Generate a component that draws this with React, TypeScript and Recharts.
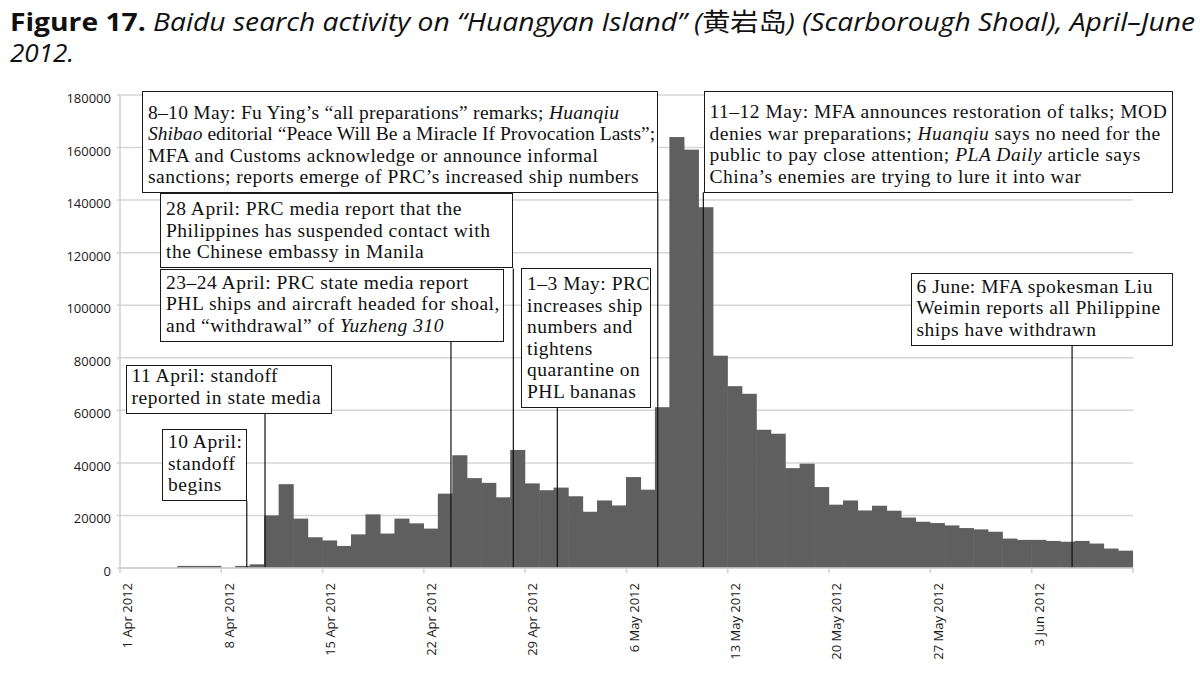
import React from 'react';
import { BarChart, Bar, XAxis, YAxis, CartesianGrid, ReferenceLine } from 'recharts';

// daily Baidu search index for 黄岩岛, 1 Apr – 9 Jun 2012 (one value per day)
const SEARCHES = [
  0, 0, 0, 0, 800, 800, 800, 0, 800, 1400,
  20000, 31900, 18800, 11700, 10500, 8400, 12800, 20400, 13100, 18800,
  17000, 15000, 28300, 42900, 34200, 32400, 26900, 44900, 32200, 29600,
  30600, 27300, 21400, 25700, 23800, 34600, 29800, 61200, 164000, 159200,
  137300, 80800, 69200, 66300, 52600, 51100, 38000, 39700, 30800, 24100,
  25700, 21900, 23700, 21800, 19200, 17600, 17100, 16200, 15200, 14700,
  13800, 11200, 10700, 10700, 10300, 10000, 10300, 9300, 7400, 6600,
];

const WEEK_LABELS = [
  '1 Apr 2012', '8 Apr 2012', '15 Apr 2012', '22 Apr 2012', '29 Apr 2012',
  '6 May 2012', '13 May 2012', '20 May 2012', '27 May 2012', '3 Jun 2012',
];
const WEEK_TICKS = [0, 7, 14, 21, 28, 35, 42, 49, 56, 63, 70];
const Y_TICKS = [0, 20000, 40000, 60000, 80000, 100000, 120000, 140000, 160000, 180000];

// events: day offset from 1 Apr where the leader line sits, and value where it meets its box
const EVENT_DAYS = [37.16, 27.18, 22.87, 30.22, 10.02, 8.76, 40.31, 65.79];
const EVENT_TOPS = [143000, 114000, 86000, 61000, 59000, 25500, 143000, 85000];
const EVENT_TEXT = [
  [
    '8–10 May: Fu Ying’s “all preparations” remarks; *Huanqiu*',
    '*Shibao* editorial “Peace Will Be a Miracle If Provocation Lasts”;',
    'MFA and Customs acknowledge or announce informal',
    'sanctions; reports emerge of PRC’s increased ship numbers',
  ],
  [
    '28 April: PRC media report that the',
    'Philippines has suspended contact with',
    'the Chinese embassy in Manila',
  ],
  [
    '23–24 April: PRC state media report',
    'PHL ships and aircraft headed for shoal,',
    'and “withdrawal” of *Yuzheng 310*',
  ],
  ['1–3 May: PRC', 'increases ship', 'numbers and', 'tightens', 'quarantine on', 'PHL bananas'],
  ['11 April: standoff', 'reported in state media'],
  ['10 April:', 'standoff', 'begins'],
  [
    '11–12 May: MFA announces restoration of talks; MOD',
    'denies war preparations; *Huanqiu* says no need for the',
    'public to pay close attention; *PLA Daily* article says',
    'China’s enemies are trying to lure it into war',
  ],
  [
    '6 June: MFA spokesman Liu',
    'Weimin reports all Philippine',
    'ships have withdrawn',
  ],
];

// box placement (page pixels)
const BOXES = [
  { left: 142, top: 91, width: 516, height: 102 },
  { left: 160, top: 193, width: 353, height: 75 },
  { left: 160, top: 268.5, width: 344, height: 73 },
  { left: 521, top: 267.5, width: 130, height: 140 },
  { left: 125.5, top: 364.5, width: 206, height: 49 },
  { left: 162, top: 429, width: 84.5, height: 72 },
  { left: 703.5, top: 90.5, width: 469.5, height: 102 },
  { left: 910.5, top: 272.5, width: 262.5, height: 73 },
];
// lines that need tighter tracking to fit their box
const TIGHT = { '0-1': 0.05, '0-0': 0.3 } as Record<string, number>;

const W = 1202;
const H = 678;
const MARGIN = { top: 95, right: 69, bottom: 10, left: 60 };
const Y_AXIS_W = 60;
const PLOT_W = W - MARGIN.left - MARGIN.right - Y_AXIS_W;
const DAY_W = PLOT_W / SEARCHES.length;

const SANS = "'Open Sans', 'Noto Sans', sans-serif";
const SERIF = "'Liberation Serif', 'Times New Roman', serif";

const data = SEARCHES.map((v, i) => ({ day: i, value: v }));

const DateTick = (props: any) => {
  const { x, y, payload } = props;
  const idx = WEEK_TICKS.indexOf(payload.value);
  const label = WEEK_LABELS[idx];
  if (!label) return null;
  const cx = x + DAY_W / 2;
  const top = y + 8;
  return (
    <text
      transform={`translate(${cx},${top}) rotate(-90)`}
      textAnchor="end"
      dominantBaseline="central"
      fontSize={13}
      fontFamily={SANS}
      fill="#1a1a1a"
    >
      {label}
    </text>
  );
};

const ValueTick = (props: any) => {
  const { x, y, payload } = props;
  return (
    <text x={x - 4} y={y + 3} textAnchor="end" dominantBaseline="central" fontSize={13} fontFamily={SANS} fill="#1a1a1a">
      {String(payload.value)}
    </text>
  );
};

// fill the whole day band (recharts truncates bar width to whole pixels)
const DayBar = (props: any) => {
  const { x, y, width, height, fill } = props;
  if (!height || height <= 0) return null;
  const left = x - (DAY_W - width) / 2 - 0.3;
  return <rect x={left} y={y} width={DAY_W + 0.6} height={height} fill={fill} />;
};

const renderLine = (line: string, box: number, key: number) => {
  const parts = line.split('*');
  const ls = TIGHT[`${box}-${key}`];
  return (
    <div key={key} style={{ whiteSpace: 'nowrap', letterSpacing: ls }}>
      {parts.map((p, i) => (i % 2 === 1 ? <i key={i}>{p}</i> : <span key={i}>{p}</span>))}
    </div>
  );
};

export default function App() {
  return (
    <div style={{ position: 'absolute', left: 0, top: 0, width: W, height: H, background: '#fff', overflow: 'hidden' }}>
      <svg width={W} height={80} style={{ position: 'absolute', left: 0, top: 0 }}>
        <text x={10} y={31} fontSize={25} fontFamily={SANS} fill="#111" textLength={1185} lengthAdjust="spacingAndGlyphs">
          <tspan fontWeight="bold">Figure 17.</tspan>
          <tspan fontStyle="italic"> Baidu search activity on “Huangyan Island” (</tspan>
          <tspan fontFamily="'Noto Sans CJK SC'">黄岩岛</tspan>
          <tspan fontStyle="italic">) (Scarborough Shoal), April–June</tspan>
        </text>
        <text x={10} y={62} fontSize={25} fontFamily={SANS} fill="#111" fontStyle="italic" textLength={64} lengthAdjust="spacingAndGlyphs">
          2012.
        </text>
      </svg>

      <div style={{ position: 'absolute', left: 0, top: 0 }}>
        <BarChart width={W} height={H} data={data} margin={MARGIN} barCategoryGap={0} barGap={0}>
          <CartesianGrid vertical={false} stroke="#d6d6d6" strokeWidth={1.5} xAxisId="n" />
          <XAxis xAxisId="c" dataKey="day" type="category" hide height={0} />
          <XAxis
            xAxisId="n"
            dataKey="day"
            type="number"
            domain={[0, 70]}
            allowDataOverflow
            ticks={WEEK_TICKS}
            interval={0}
            height={100}
            tickSize={5}
            axisLine={{ stroke: '#cfcfcf', strokeWidth: 1.5 }}
            tickLine={{ stroke: '#cfcfcf', strokeWidth: 1.5 }}
            tick={<DateTick />}
          />
          <YAxis
            domain={[0, 180000]}
            ticks={Y_TICKS}
            interval={0}
            width={Y_AXIS_W}
            tickSize={3}
            axisLine={{ stroke: '#cfcfcf', strokeWidth: 1.5 }}
            tickLine={{ stroke: '#cfcfcf', strokeWidth: 1.5 }}
            tick={<ValueTick />}
          />
          <Bar xAxisId="c" dataKey="value" fill="#5f5f5f" shape={<DayBar />} isAnimationActive={false} />
          {EVENT_DAYS.map((d, i) => (
            <ReferenceLine
              key={i}
              xAxisId="n"
              segment={[{ x: d, y: 0 }, { x: d, y: EVENT_TOPS[i] }]}
              stroke="#111"
              strokeWidth={1.2}
              ifOverflow="visible"
            />
          ))}
        </BarChart>
      </div>

      {BOXES.map((b, i) => (
        <div
          key={i}
          style={{
            position: 'absolute',
            left: b.left,
            top: b.top,
            width: b.width,
            height: b.height,
            boxSizing: 'border-box',
            border: '1px solid #1a1a1a',
            background: '#fff',
            padding: '0 0 4px 5px',
            display: 'flex',
            flexDirection: 'column',
            justifyContent: 'flex-end',
            fontFamily: SERIF,
            fontSize: 19.5,
            lineHeight: '21.6px',
            letterSpacing: 0.5,
            color: '#111',
            overflow: 'hidden',
          }}
        >
          {EVENT_TEXT[i].map((line, j) => renderLine(line, i, j))}
        </div>
      ))}
    </div>
  );
}
